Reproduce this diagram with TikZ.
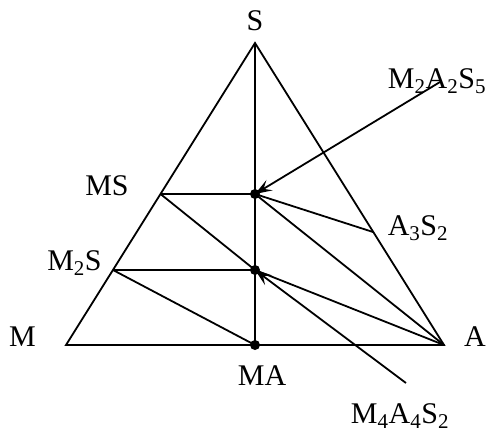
\documentclass[tikz,border=0pt]{standalone}
\usepackage{fontspec}
\setmainfont{Liberation Serif}
\usetikzlibrary{arrows.meta}

\begin{document}
\begin{tikzpicture}[
  x=1pt, y=-1pt,
  line width=1.8pt,
  lbl/.style = {anchor=base, inner sep=0pt, font=\fontsize{30}{35}\selectfont},
  dot/.style = {circle, fill, inner sep=0pt, minimum size=10pt},
  arr/.style = {-{Stealth[length=17pt, width=12pt, inset=7pt]}, line width=1.8pt}
]
\useasboundingbox (0,0) rectangle (492,434);

% Corners of the triangle
\coordinate (S) at (255,43);
\coordinate (M) at (66,345);
\coordinate (A) at (444,345);

% Points on the sides
\coordinate (MS)   at (160.5,194);
\coordinate (M2S)  at (113,270);
\coordinate (A3S2) at (373,232);
\node[dot] (MA) at (255,345) {};

% Ternary compounds
\node[dot] (P1) at (255,194) {}; % M2A2S5
\node[dot] (P2) at (255,270) {}; % M4A4S2

% Labels
\node[lbl] (lS)    at (255,30.5)  {S};
\node[lbl] (lM)    at (22.5,346.5) {M};
\node[lbl] (lA)    at (475,346.5) {A};
\node[lbl] (lMA)   at (262,385)   {MA};
\node[lbl] (lMS)   at (107,195)   {MS};
\node[lbl] (lM2S)  at (74.5,270.5) {M\textsubscript{2}S};
\node[lbl] (lA3S2) at (418,235.5) {A\textsubscript{3}S\textsubscript{2}};
\node[lbl] (lP1)   at (437,88)    {M\textsubscript{2}A\textsubscript{2}S\textsubscript{5}};
\node[lbl] (lP2)   at (400,423)   {M\textsubscript{4}A\textsubscript{4}S\textsubscript{2}};

% Triangle
\draw[line join=miter] (M) -- (S) -- (A) -- cycle;
\draw (S) -- (MA.center);

% Tie lines
\draw (MS) -- (P1.center);
\draw (MS) -- (P2.center);
\draw (M2S) -- (P2.center);
\draw (M2S) -- (MA.center);
\draw (P1.center) -- (A3S2);
\draw (P1.center) -- (A);
\draw (P2.center) -- (A);

% Pointers to the compounds
\coordinate (t1) at (440,82);
\coordinate (t2) at (406,383);
\draw[arr] (t1) -- (P1.center);
\draw[arr] (t2) -- (P2.center);

\end{tikzpicture}
\end{document}
